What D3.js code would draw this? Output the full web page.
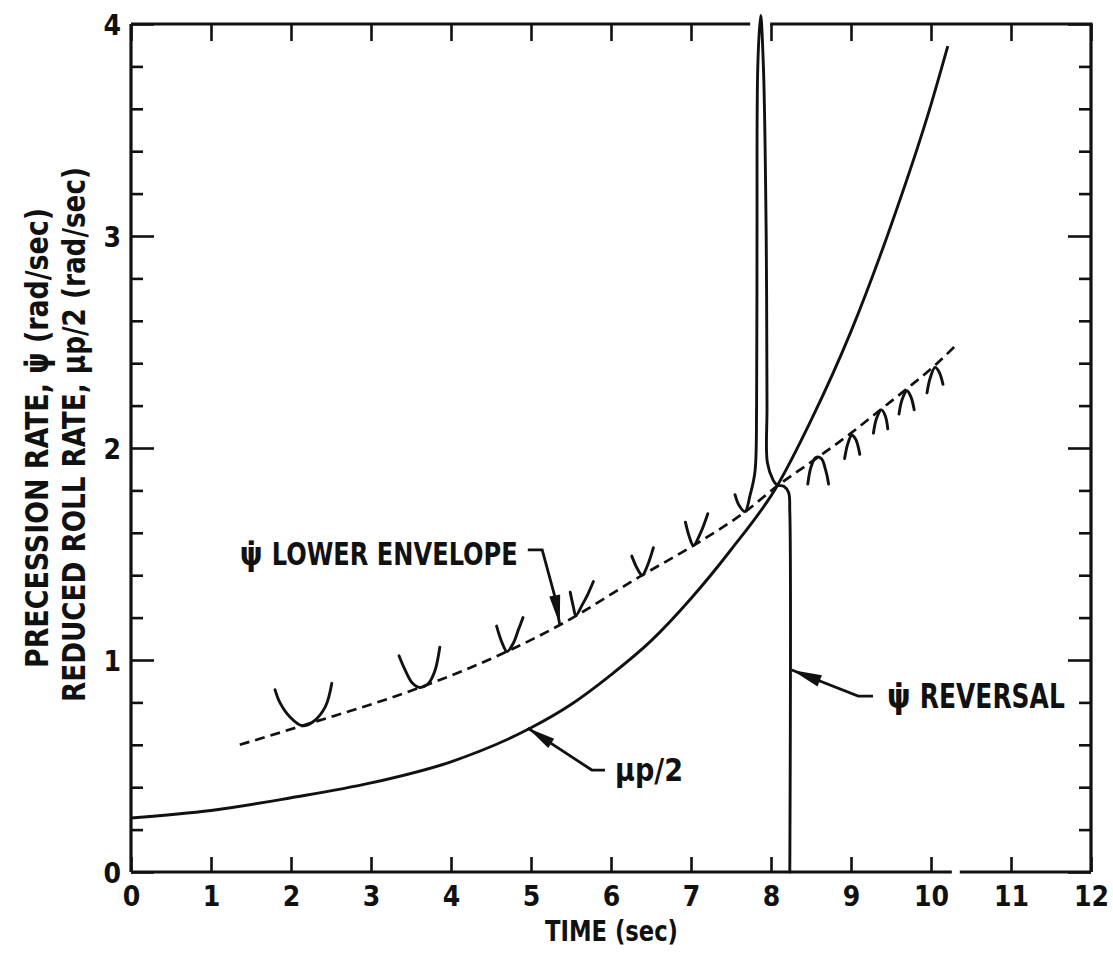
<!DOCTYPE html>
<html>
<head>
<meta charset="utf-8">
<script src="https://cdn.jsdelivr.net/npm/d3@7"></script>
<style>
  body { margin: 0; background: #fff; }
  text { font-family: "DejaVu Sans Condensed", "Liberation Sans Narrow", "DejaVu Sans", sans-serif; font-weight: bold; fill: #111; }
</style>
</head>
<body>
<svg id="chart"></svg>
<script>
// tick values
var xTicks = [0, 1, 2, 3, 4, 5, 6, 7, 8, 9, 10, 11, 12];
var yTicks = [0, 1, 2, 3, 4];
var yMinor = [0.2, 0.4, 0.6, 0.8, 1.2, 1.4, 1.6, 1.8, 2.2, 2.4, 2.6, 2.8, 3.2, 3.4, 3.6, 3.8];

// reduced roll rate mu p / 2  [time, rad/sec]
var rollRate = [[0, 0.255], [1, 0.29], [2, 0.35], [3, 0.42], [4, 0.52], [5, 0.68], [5.5, 0.79],
  [6, 0.93], [6.5, 1.09], [7, 1.29], [7.5, 1.52], [8.075, 1.82], [8.5, 2.13], [9, 2.55],
  [9.5, 3.05], [10, 3.62], [10.21, 3.896]];

// psi-dot lower envelope (dashed)
var lowerEnvelope = [[1.36, 0.60], [2.14, 0.69], [3.61, 0.87], [4.70, 1.04], [5.36, 1.165], [6.39, 1.40],
  [7.03, 1.54], [7.68, 1.70], [8.075, 1.82], [8.6, 1.96], [9.0, 2.07], [9.4, 2.19], [9.7, 2.28],
  [10.05, 2.39], [10.3, 2.48]];

// psi-dot traces (loops touching the envelope)
var psiLoops = [
  [[1.80, 0.86], [1.86, 0.80], [1.99, 0.73], [2.14, 0.69], [2.28, 0.71], [2.43, 0.78], [2.51, 0.89]],
  [[3.35, 1.02], [3.43, 0.95], [3.52, 0.89], [3.61, 0.87], [3.72, 0.89], [3.80, 0.95], [3.86, 1.06]],
  [[4.57, 1.16], [4.64, 1.08], [4.70, 1.04], [4.78, 1.08], [4.84, 1.14], [4.90, 1.20]],
  [[5.49, 1.32], [5.53, 1.25], [5.56, 1.21], [5.64, 1.26], [5.71, 1.31], [5.78, 1.37]],
  [[6.26, 1.49], [6.33, 1.43], [6.39, 1.40], [6.45, 1.44], [6.53, 1.53]],
  [[6.93, 1.65], [6.98, 1.58], [7.03, 1.54], [7.12, 1.60], [7.21, 1.69]],
  [[7.55, 1.78], [7.60, 1.73], [7.675, 1.70], [7.74, 1.78], [7.80, 1.89], [7.82, 2.2], [7.825, 3.0],
   [7.835, 3.8], [7.87, 4.04], [7.905, 3.8], [7.94, 3.0], [7.95, 2.2], [7.955, 1.93], [8.025, 1.85],
   [8.075, 1.825], [8.16, 1.82], [8.22, 1.79], [8.235, 1.70], [8.235, 0]],
  [[8.46, 1.83], [8.50, 1.91], [8.56, 1.955], [8.63, 1.95], [8.68, 1.90], [8.72, 1.83]],
  [[8.92, 1.95], [8.96, 2.02], [9.01, 2.06], [9.06, 2.04], [9.11, 1.97]],
  [[9.28, 2.07], [9.32, 2.14], [9.38, 2.18], [9.43, 2.15], [9.46, 2.09]],
  [[9.60, 2.16], [9.64, 2.23], [9.70, 2.27], [9.75, 2.24], [9.79, 2.18]],
  [[9.95, 2.26], [9.99, 2.33], [10.05, 2.38], [10.10, 2.36], [10.15, 2.30]]
];

// annotation leaders [time, value], last point is the arrow tip
var envelopeLeader = [[4.96, 1.519], [5.14, 1.519], [5.30, 1.297], [5.36, 1.165]];
var rollLeader = [[5.925, 0.481], [5.76, 0.481], [4.96, 0.679]];
var reversalLeader = [[9.275, 0.83], [9.09, 0.83], [8.26, 0.953]];

var width = 1113, height = 963;
var svg = d3.select("#chart").attr("width", width).attr("height", height);

var x = d3.scaleLinear().domain([0, 12]).range([131, 1091]);
var y = d3.scaleLinear().domain([0, 4]).range([872, 24]);

// axes, ticks pointing inward
svg.append("g").attr("transform", "translate(131,0)")
  .call(d3.axisLeft(y).tickValues(yMinor).tickSize(-12).tickFormat(""));
svg.append("g").attr("class", "yaxis").attr("transform", "translate(131,0)")
  .call(d3.axisLeft(y).tickValues(yTicks).tickSize(-23).tickPadding(10).tickFormat(d3.format("d")));
svg.append("g").attr("transform", "translate(1091,0)")
  .call(d3.axisRight(y).tickValues(yMinor).tickSize(-12).tickFormat(""));
svg.append("g").attr("transform", "translate(1091,0)")
  .call(d3.axisRight(y).tickValues(yTicks).tickSize(-23).tickFormat(""));
svg.append("g").attr("class", "xaxis").attr("transform", "translate(0,872)")
  .call(d3.axisBottom(x).tickValues(xTicks).tickSize(-15).tickPadding(14).tickFormat(d3.format("d")));
svg.append("g").attr("transform", "translate(0,24)")
  .call(d3.axisTop(x).tickValues(xTicks).tickSize(-17).tickFormat(""));

svg.selectAll(".domain").remove();
svg.selectAll(".tick line").attr("stroke", "#111").attr("stroke-width", 2.6);
svg.selectAll(".tick text").attr("font-size", 28).attr("fill", "#111")
  .style("font-family", "'DejaVu Sans Condensed', 'Liberation Sans Narrow', sans-serif").style("font-weight", "bold");
svg.selectAll(".yaxis .tick text").attr("dy", "0.36em");

var line = d3.line().x(function(d) { return x(d[0]); }).y(function(d) { return y(d[1]); });

// frame with the gaps of the original
var frame = [
  [[0, 0], [0, 4]],
  [[0, 4], [7.74, 4]],
  [[7.99, 4], [12, 4], [12, 0]],
  [[0, 0], [10.26, 0]],
  [[10.36, 0], [12, 0]]
];
svg.selectAll(".frame").data(frame).enter().append("path")
  .attr("class", "frame")
  .attr("d", line)
  .attr("fill", "none").attr("stroke", "#111").attr("stroke-width", 3.2);

// curves
var smooth = d3.line().x(function(d) { return x(d[0]); }).y(function(d) { return y(d[1]); })
  .curve(d3.curveMonotoneX);
var loopLine = d3.line().x(function(d) { return x(d[0]); }).y(function(d) { return y(d[1]); })
  .curve(d3.curveCatmullRom.alpha(0.5));

svg.append("path").attr("d", smooth(rollRate))
  .attr("fill", "none").attr("stroke", "#111").attr("stroke-width", 2.9);

svg.append("path").attr("d", smooth(lowerEnvelope))
  .attr("fill", "none").attr("stroke", "#111").attr("stroke-width", 2.7)
  .attr("stroke-dasharray", "10,6");

svg.selectAll(".loop").data(psiLoops).enter().append("path")
  .attr("class", "loop")
  .attr("d", loopLine)
  .attr("fill", "none").attr("stroke", "#111").attr("stroke-width", 2.9)
  .attr("stroke-linejoin", "round").attr("stroke-linecap", "round");

// leaders with filled arrow heads
function leader(pts, headLen, headW) {
  svg.append("path").attr("d", line(pts))
    .attr("fill", "none").attr("stroke", "#111").attr("stroke-width", 2.8);
  var a = pts[pts.length - 2], b = pts[pts.length - 1];
  var ax = x(a[0]), ay = y(a[1]), bx = x(b[0]), by = y(b[1]);
  var len = Math.sqrt((bx - ax) * (bx - ax) + (by - ay) * (by - ay));
  var ux = (bx - ax) / len, uy = (by - ay) / len;
  var baseX = bx - ux * headLen, baseY = by - uy * headLen;
  svg.append("path")
    .attr("d", "M" + bx + "," + by +
      "L" + (baseX - uy * headW) + "," + (baseY + ux * headW) +
      "L" + (baseX + uy * headW) + "," + (baseY - ux * headW) + "Z")
    .attr("fill", "#111");
}
leader(envelopeLeader, 30, 5.5);
leader(rollLeader, 28, 5.5);
leader(reversalLeader, 30, 6);

// labels
svg.append("text").attr("x", x(1.36)).attr("y", y(1.448))
  .attr("font-size", 32).text("ψ̇");
svg.append("text").attr("x", x(1.76)).attr("y", y(1.448))
  .attr("font-size", 32).attr("textLength", 246).attr("lengthAdjust", "spacingAndGlyphs")
  .text("LOWER ENVELOPE");

svg.append("text").attr("x", x(6.05)).attr("y", y(0.43))
  .attr("font-size", 32).attr("textLength", 68).attr("lengthAdjust", "spacingAndGlyphs")
  .text("μp/2");

svg.append("text").attr("x", x(9.45)).attr("y", y(0.774))
  .attr("font-size", 33).text("ψ̇");
svg.append("text").attr("x", x(9.86)).attr("y", y(0.774))
  .attr("font-size", 33).attr("textLength", 145).attr("lengthAdjust", "spacingAndGlyphs")
  .text("REVERSAL");

// axis titles
svg.append("text").attr("x", 545).attr("y", 941)
  .attr("font-size", 29).attr("textLength", 133).attr("lengthAdjust", "spacingAndGlyphs")
  .text("TIME (sec)");

svg.append("text").attr("transform", "translate(48,668) rotate(-90)")
  .attr("font-size", 32).attr("textLength", 460).attr("lengthAdjust", "spacingAndGlyphs")
  .text("PRECESSION RATE, ψ̇ (rad/sec)");
svg.append("text").attr("transform", "translate(85,702) rotate(-90)")
  .attr("font-size", 32).attr("textLength", 535).attr("lengthAdjust", "spacingAndGlyphs")
  .text("REDUCED ROLL RATE, μp/2 (rad/sec)");
</script>
</body>
</html>
